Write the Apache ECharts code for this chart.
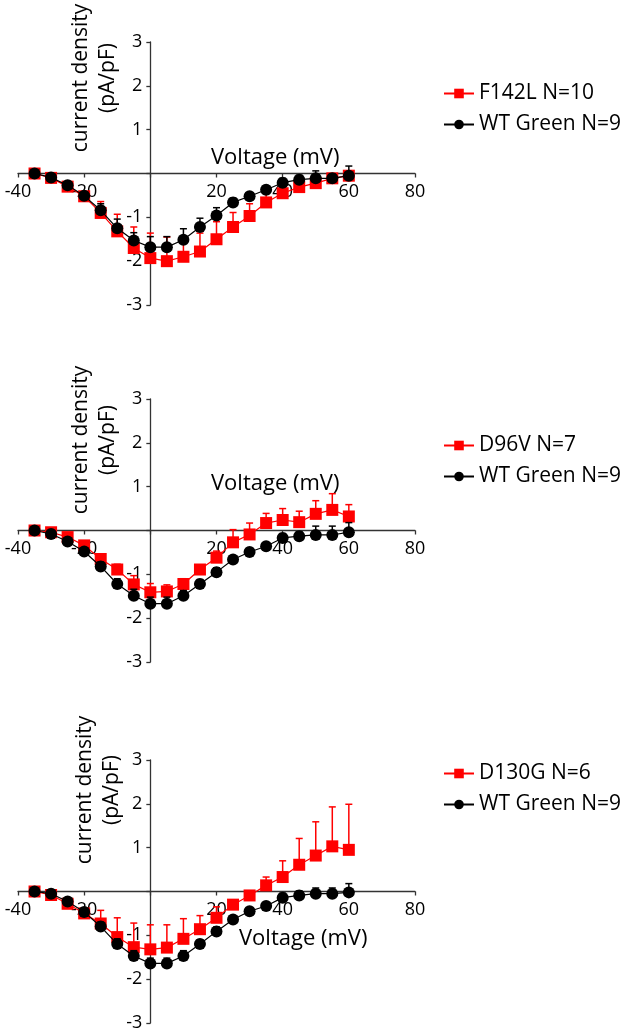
<!DOCTYPE html>
<html>
<head>
<meta charset="utf-8">
<script src="https://cdn.jsdelivr.net/npm/echarts@6/dist/echarts.min.js"></script>
<style>
html,body{margin:0;padding:0;background:#fff;}
#chart{width:628px;height:1033px;}
</style>
</head>
<body>
<div id="chart"></div>
<script>
// ---- data ----
const voltages = [-35,-30,-25,-20,-15,-10,-5,0,5,10,15,20,25,30,35,40,45,50,55,60];
const xTicks = [-40,-20,0,20,40,60,80];
const yTicks = [-3,-2,-1,0,1,2,3];

const mutNames = ['F142L N=10','D96V N=7','D130G N=6'];
const wtName = 'WT Green N=9';

const f142l    = [0,-0.10,-0.30,-0.52,-0.90,-1.32,-1.70,-1.93,-2.00,-1.90,-1.78,-1.50,-1.22,-0.97,-0.66,-0.45,-0.31,-0.22,-0.11,-0.05];
const f142lErr = [0.03,0.04,0.05,0.08,0.26,0.39,0.48,0.57,0.55,0.45,0.42,0.40,0.33,0.28,0.20,0.15,0.10,0.10,0.10,0.10];
const wt1      = [0,-0.09,-0.27,-0.51,-0.84,-1.25,-1.53,-1.68,-1.68,-1.51,-1.22,-0.96,-0.66,-0.52,-0.37,-0.21,-0.14,-0.11,-0.11,-0.05];
const wt1Err   = [0.03,0.04,0.05,0.08,0.15,0.21,0.18,0.24,0.24,0.25,0.20,0.18,0.10,0.08,0.08,0.10,0.10,0.17,0.10,0.22];

const d96v     = [0,-0.04,-0.15,-0.34,-0.65,-0.89,-1.23,-1.41,-1.39,-1.22,-0.89,-0.62,-0.27,-0.09,0.17,0.24,0.19,0.38,0.47,0.32];
const d96vErr  = [0.03,0.04,0.05,0.08,0.10,0.12,0.20,0.20,0.15,0.12,0.10,0.15,0.29,0.26,0.22,0.26,0.25,0.30,0.37,0.27];
const wt2      = [0,-0.08,-0.25,-0.48,-0.82,-1.22,-1.49,-1.67,-1.67,-1.49,-1.22,-0.95,-0.66,-0.49,-0.36,-0.17,-0.13,-0.10,-0.10,-0.04];
const wt2Err   = [0.03,0.04,0.05,0.08,0.10,0.12,0.15,0.15,0.15,0.12,0.10,0.10,0.08,0.08,0.08,0.10,0.10,0.20,0.20,0.22];

const d130g    = [0,-0.08,-0.28,-0.50,-0.73,-1.04,-1.27,-1.32,-1.28,-1.08,-0.86,-0.60,-0.30,-0.09,0.14,0.33,0.61,0.82,1.03,0.95];
const d130gErr = [0.03,0.04,0.05,0.10,0.30,0.44,0.55,0.56,0.52,0.46,0.31,0.25,0.10,0.08,0.19,0.37,0.60,0.77,0.90,1.04];
const wt3      = [0,-0.05,-0.23,-0.47,-0.80,-1.20,-1.47,-1.64,-1.64,-1.47,-1.20,-0.91,-0.64,-0.45,-0.33,-0.14,-0.09,-0.05,-0.05,-0.02];
const wt3Err   = [0.03,0.04,0.05,0.08,0.10,0.12,0.12,0.12,0.12,0.12,0.10,0.10,0.08,0.08,0.08,0.10,0.10,0.13,0.13,0.20];

// ---- layout ----
const FONT = '"Open Sans", "Noto Sans", sans-serif';
const GRID_LEFT = 18, GRID_W = 397, GRID_H = 263;
const X_MIN = -40, X_MAX = 80, Y_MIN = -3, Y_MAX = 3;
const gridTops = [42, 399, 760];
const panels = [
  {mut: f142l, mutErr: f142lErr, wt: wt1, wtErr: wt1Err},
  {mut: d96v, mutErr: d96vErr, wt: wt2, wtErr: wt2Err},
  {mut: d130g, mutErr: d130gErr, wt: wt3, wtErr: wt3Err}
];
const RED = '#ff0000', BLACK = '#000000';
// axes cross at zero: shift them inward from the grid edges
const yAxisOffset = -GRID_W * (0 - X_MIN) / (X_MAX - X_MIN);
const xAxisOffset = -GRID_H * (0 - Y_MIN) / (Y_MAX - Y_MIN);

function pairs(arr){ return voltages.map((v,i)=>[v, arr[i]]); }
function errData(vals, errs){ return voltages.map((v,i)=>[v, vals[i], errs[i]]); }

function errRender(color){
  return function(params, api){
    const x = api.value(0), y = api.value(1), e = api.value(2);
    const p0 = api.coord([x, y]);
    const p1 = api.coord([x, y + e]);
    const hw = 3.5;
    return {
      type: 'group',
      children: [
        {type:'line', shape:{x1:p0[0], y1:p0[1], x2:p1[0], y2:p1[1]}, style:{stroke:color, lineWidth:1.5}},
        {type:'line', shape:{x1:p1[0]-hw, y1:p1[1], x2:p1[0]+hw, y2:p1[1]}, style:{stroke:color, lineWidth:1.5}}
      ]
    };
  };
}

const grid = [], xAxis = [], yAxis = [], series = [], legend = [];
panels.forEach((p, k) => {
  grid.push({left: GRID_LEFT, width: GRID_W, top: gridTops[k], height: GRID_H});
  xAxis.push({
    type: 'value', gridIndex: k, min: X_MIN, max: X_MAX, interval: 20,
    position: 'bottom', offset: xAxisOffset,
    axisLine: {onZero: false, lineStyle: {color: '#333', width: 1.3}},
    axisTick: {show: true, length: 4, lineStyle: {color: '#333', width: 1.3}},
    axisLabel: {fontSize: 18, fontFamily: FONT, color: '#000', margin: 9,
      formatter: v => (v === 0 ? '' : String(v))},
    splitLine: {show: false}
  });
  yAxis.push({
    type: 'value', gridIndex: k, min: Y_MIN, max: Y_MAX, interval: 1,
    position: 'left', offset: yAxisOffset,
    axisLine: {onZero: false, lineStyle: {color: '#333', width: 1.3}},
    axisTick: {show: true, length: 4, lineStyle: {color: '#333', width: 1.3}},
    axisLabel: {fontSize: 18, fontFamily: FONT, color: '#000', margin: 8,
      formatter: v => (v === 0 ? '' : String(v))},
    splitLine: {show: false}
  });
  series.push({
    type: 'custom', name: 'err-mut-' + k, xAxisIndex: k, yAxisIndex: k, z: 1,
    renderItem: errRender(RED), data: errData(p.mut, p.mutErr), silent: true
  });
  series.push({
    type: 'line', name: mutNames[k], xAxisIndex: k, yAxisIndex: k, z: 2,
    data: pairs(p.mut), symbol: 'rect', symbolSize: 12,
    itemStyle: {color: RED}, lineStyle: {color: RED, width: 1.2}, animation: false
  });
  series.push({
    type: 'custom', name: 'err-wt-' + k, xAxisIndex: k, yAxisIndex: k, z: 3,
    renderItem: errRender(BLACK), data: errData(p.wt, p.wtErr), silent: true
  });
  series.push({
    type: 'line', name: wtName, xAxisIndex: k, yAxisIndex: k, z: 4,
    data: pairs(p.wt), symbol: 'circle', symbolSize: 12,
    itemStyle: {color: BLACK}, lineStyle: {color: BLACK, width: 1.2}, animation: false
  });
});

const legendTops = [77, 429, 757];
legendTops.forEach((t, k) => {
  legend.push({
    orient: 'vertical', left: 438, top: t,
    data: [mutNames[k], wtName],
    itemWidth: 30, itemHeight: 12, itemGap: 8,
    textStyle: {fontSize: 21, fontFamily: FONT, color: '#000', lineHeight: 23},
    selectedMode: false
  });
});

const yNamePos = [[95, 78], [95, 440], [99, 790]];
const voltPos = [[211, 158], [211, 484], [239, 939]];
const graphic = [];
yNamePos.forEach(([x, y]) => {
  graphic.push({
    type: 'text', x: x, y: y, rotation: Math.PI / 2,
    style: {text: 'current density\n(pA/pF)', fontSize: 21, fontFamily: FONT, fill: '#000',
      align: 'center', verticalAlign: 'middle', lineHeight: 27}
  });
});
voltPos.forEach(([x, y]) => {
  graphic.push({
    type: 'text', x: x, y: y,
    style: {text: 'Voltage (mV)', fontSize: 22, fontFamily: FONT, fill: '#000',
      align: 'left', verticalAlign: 'middle'}
  });
});

const chart = echarts.init(document.getElementById('chart'), null, {renderer: 'canvas'});
chart.setOption({
  animation: false,
  backgroundColor: '#fff',
  grid, xAxis, yAxis, series, legend, graphic
});
</script>
</body>
</html>
